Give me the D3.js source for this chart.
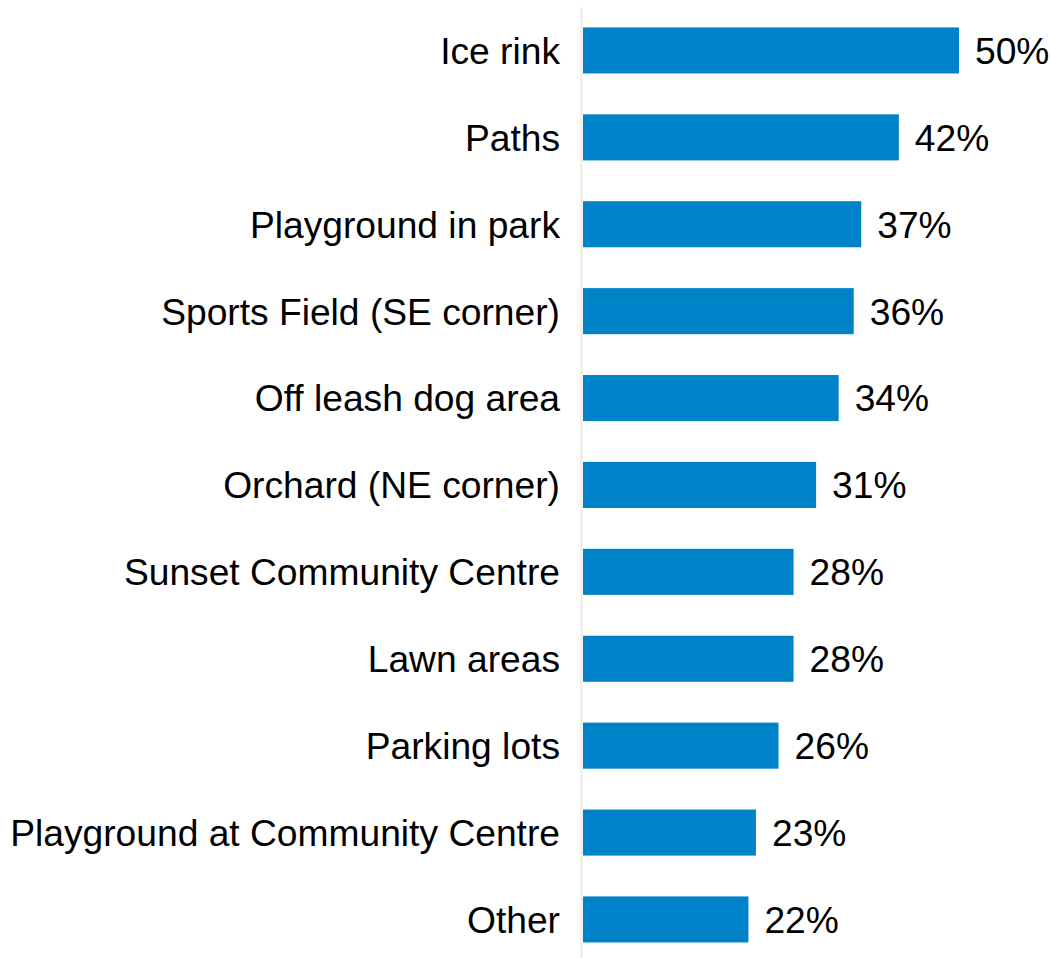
<!DOCTYPE html>
<html><head><meta charset="utf-8">
<script src="https://cdn.jsdelivr.net/npm/d3@7"></script>
<style>body{margin:0;background:#fff}svg{display:block}</style>
</head><body>
<svg id="c" width="1050" height="958"></svg>
<script>
const categories = ["Ice rink","Paths","Playground in park","Sports Field (SE corner)","Off leash dog area","Orchard (NE corner)","Sunset Community Centre","Lawn areas","Parking lots","Playground at Community Centre","Other"];
const values = [50,42,37,36,34,31,28,28,26,23,22];

const svg = d3.select("#c");
const x0 = 583;
const x = d3.scaleLinear().domain([0,50]).range([x0, 959]);
const y = d3.scaleBand().domain(categories).range([7, 962.9]).paddingInner(0.47).paddingOuter(0.235);
const font = "'Liberation Sans', Arial, sans-serif";

svg.append("line").attr("x1",581.5).attr("x2",581.5).attr("y1",7).attr("y2",958)
  .attr("stroke","#efebe2").attr("stroke-width",2);

const data = categories.map((c,i)=>({c, v: values[i]}));
svg.selectAll("rect.bar").data(data).join("rect").attr("class","bar")
  .attr("x", x(0)).attr("y", d=>y(d.c)).attr("width", d=>x(d.v)-x(0)).attr("height", y.bandwidth())
  .attr("fill","#0082c8");

svg.selectAll("text.cat").data(data).join("text").attr("class","cat")
  .attr("x", 560).attr("y", d=>y(d.c)+y.bandwidth()/2).attr("dy","0.36em")
  .attr("text-anchor","end").attr("font-family",font).attr("font-size",37.2).attr("fill","#000")
  .text(d=>d.c);

svg.selectAll("text.val").data(data).join("text").attr("class","val")
  .attr("x", d=>x(d.v)+16).attr("y", d=>y(d.c)+y.bandwidth()/2).attr("dy","0.36em")
  .attr("font-family",font).attr("font-size",37.2).attr("fill","#000")
  .text(d=>d.v+"%");
</script>
</body></html>
